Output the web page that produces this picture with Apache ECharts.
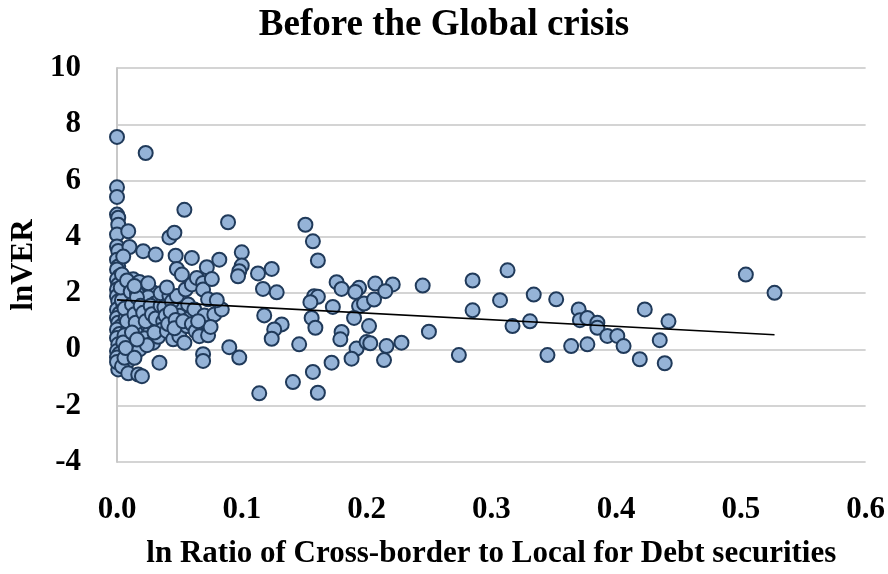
<!DOCTYPE html>
<html>
<head>
<meta charset="utf-8">
<script src="https://cdn.jsdelivr.net/npm/echarts@6/dist/echarts.min.js"></script>
<style>
  html, body { margin: 0; padding: 0; background: #fff; }
  #chart { width: 888px; height: 574px; }
</style>
</head>
<body>
<div id="chart"></div>
<script>
// Axis ticks
const xTicks = [0.0, 0.1, 0.2, 0.3, 0.4, 0.5, 0.6];
const yTicks = [-4, -2, 0, 2, 4, 6, 8, 10];

// Observations: [ln ratio cross-border/local, lnVER]
const obsNearZero = [
  [0.000,7.55],[0.000,5.76],[0.000,5.42],[0.000,4.79],[0.001,4.68],[0.001,4.43],[0.000,4.08],
  [0.000,3.66],[0.001,3.50],[0.000,3.19],[0.001,2.95],[0.000,2.84],[0.002,2.60],[0.000,2.49],
  [0.001,2.30],[0.000,2.13],[0.002,1.98],[0.000,1.89],[0.001,1.71],[0.003,1.55],[0.000,1.42],
  [0.002,1.28],[0.000,1.12],[0.001,0.95],[0.003,0.82],[0.000,0.71],[0.002,0.55],[0.000,0.41],
  [0.001,0.18],[0.000,-0.06],[0.002,-0.15],[0.000,-0.29],[0.001,-0.71],[0.000,-0.45],
  [0.009,4.20],[0.010,3.64],[0.005,3.30],[0.004,2.66],[0.013,2.49],[0.008,2.20],[0.006,1.95],
  [0.011,1.80],[0.005,1.60],[0.009,1.35],[0.007,1.12],[0.010,0.90],[0.009,0.71],[0.006,0.50],
  [0.012,0.30],[0.013,0.12],[0.009,-0.41],[0.004,-0.60],[0.009,-0.85],[0.006,-0.30],
  [0.004,1.75],[0.006,1.45],[0.008,1.00],[0.003,2.20],[0.005,0.25],[0.007,0.05],[0.008,2.45],
  [0.011,2.05]
];
const obsLow = [
  [0.021,3.49],[0.023,6.98],[0.031,3.37],[0.018,2.40],[0.022,2.20],[0.028,2.05],[0.016,2.00],
  [0.020,1.75],[0.025,1.85],[0.030,1.62],[0.017,1.45],[0.024,1.30],[0.032,1.40],[0.020,1.10],
  [0.026,1.12],[0.029,0.95],[0.020,0.83],[0.026,0.59],[0.015,0.60],[0.022,0.40],[0.029,0.24],
  [0.018,0.00],[0.024,0.15],[0.017,-0.89],[0.020,-0.95],[0.034,-0.47],[0.014,-0.30],[0.034,1.24],
  [0.034,0.90],[0.033,1.70],
  [0.012,1.60],[0.014,1.25],[0.015,0.95],[0.016,1.85],[0.019,1.55],[0.021,1.30],[0.023,1.00],
  [0.027,1.55],[0.028,1.25],[0.031,1.10],[0.035,1.55],[0.037,1.00],[0.036,0.70],[0.033,0.45],
  [0.030,0.60],[0.012,0.60],[0.016,0.35],[0.014,2.25],[0.025,2.35],[0.035,2.00],
  [0.042,3.98],[0.046,4.15],[0.047,3.33],[0.054,4.96],[0.060,3.25],[0.048,2.86],[0.052,2.66],
  [0.042,1.92],[0.045,1.06],[0.052,1.42],[0.040,0.65],[0.045,0.36],[0.050,0.47],[0.054,0.24],
  [0.056,0.83],[0.038,1.50],[0.044,1.70],[0.050,1.20],[0.057,1.60],[0.039,1.20],[0.041,0.90],
  [0.048,1.90],[0.055,2.13],[0.060,2.31],[0.058,1.10],[0.040,2.20],[0.043,1.35],[0.047,1.05],
  [0.046,0.75],[0.053,1.00],[0.060,0.90],[0.063,0.65],
  [0.064,2.54],[0.069,2.36],[0.069,2.13],[0.072,2.92],[0.082,3.19],[0.100,3.45],[0.100,2.98],
  [0.098,2.78],[0.097,2.60],[0.089,4.52],[0.073,1.78],[0.062,1.42],[0.070,1.21],[0.078,1.24],
  [0.084,1.42],[0.066,0.47],[0.073,0.50],[0.069,-0.17],[0.069,-0.41],[0.090,0.08],[0.098,-0.29],
  [0.075,0.80],[0.065,1.00],[0.080,1.75],[0.076,2.50]
];
const obsMid = [
  [0.113,2.70],[0.124,2.86],[0.117,2.15],[0.128,2.03],[0.118,1.21],[0.132,0.89],[0.126,0.71],
  [0.124,0.38],[0.146,0.18],[0.114,-1.56],[0.141,-1.16],[0.151,4.43],
  [0.157,3.84],[0.161,3.16],[0.176,2.39],[0.180,2.15],[0.194,2.19],[0.191,2.04],[0.207,2.34],
  [0.221,2.31],[0.215,2.07],[0.245,2.27],[0.158,1.89],[0.161,1.87],[0.155,1.68],[0.173,1.51],
  [0.194,1.54],[0.198,1.63],[0.206,1.77],[0.190,1.12],[0.156,1.12],[0.159,0.77],[0.202,0.83],
  [0.180,0.62],[0.179,0.36],[0.192,0.03],[0.200,0.26],[0.203,0.22],[0.188,-0.33],[0.216,0.12],
  [0.228,0.24],[0.214,-0.38],[0.172,-0.47],[0.157,-0.80],[0.161,-1.54],[0.250,0.63]
];
const obsHigh = [
  [0.274,-0.20],[0.285,2.45],[0.285,1.39],[0.313,2.81],[0.307,1.75],[0.317,0.83],[0.331,1.00],
  [0.334,1.95],[0.345,-0.20],[0.352,1.78],[0.364,0.12],[0.370,1.42],[0.371,1.04],[0.377,1.12],
  [0.385,0.95],[0.385,0.77],[0.393,0.48],[0.401,0.48],[0.406,0.12],[0.377,0.18],[0.423,1.42],
  [0.442,1.00],[0.435,0.33],[0.419,-0.35],[0.439,-0.49],[0.504,2.66],[0.527,2.01]
];

// Linear trend endpoints
const trendLine = [[0.0, 1.76], [0.527, 0.52]];

const points = [].concat(obsNearZero, obsLow, obsMid, obsHigh);

const serif = 'Liberation Serif';
const chart = echarts.init(document.getElementById('chart'), null, { renderer: 'canvas' });

chart.setOption({
  animation: false,
  backgroundColor: '#ffffff',
  title: {
    text: 'Before the Global crisis',
    left: 'center',
    top: 2,
    textStyle: { fontFamily: serif, fontWeight: 'bold', fontSize: 37, color: '#000' }
  },
  grid: { left: 117, right: 20, top: 68, bottom: 111, containLabel: false },
  xAxis: {
    type: 'value',
    min: xTicks[0],
    max: xTicks[xTicks.length - 1],
    interval: 0.1,
    name: 'ln Ratio of Cross-border to Local for Debt securities',
    nameLocation: 'middle',
    nameGap: 76,
    nameTextStyle: { fontFamily: serif, fontWeight: 'bold', fontSize: 31, color: '#000' },
    axisLine: { show: false },
    axisTick: { show: false },
    splitLine: { show: false },
    axisLabel: {
      margin: 32,
      fontFamily: serif, fontWeight: 'bold', fontSize: 31, color: '#000',
      formatter: v => v.toFixed(1)
    }
  },
  yAxis: {
    type: 'value',
    min: yTicks[0],
    max: yTicks[yTicks.length - 1],
    interval: 2,
    name: 'lnVER',
    nameLocation: 'middle',
    nameRotate: 90,
    nameGap: 78,
    nameTextStyle: { fontFamily: serif, fontWeight: 'bold', fontSize: 31, color: '#000' },
    axisLine: { show: true, onZero: false, lineStyle: { color: '#C8C8C8', width: 2 } },
    axisTick: { show: false },
    splitLine: { show: true, lineStyle: { color: '#D4D4D4', width: 2 } },
    axisLabel: {
      margin: 36,
      fontFamily: serif, fontWeight: 'bold', fontSize: 31, color: '#000'
    }
  },
  series: [
    {
      type: 'scatter',
      data: points,
      symbol: 'circle',
      symbolSize: 14,
      itemStyle: { color: '#95B3D7', borderColor: '#203A5A', borderWidth: 2, opacity: 1 },
      z: 2
    },
    {
      type: 'line',
      data: trendLine,
      showSymbol: false,
      symbol: 'none',
      lineStyle: { color: '#000', width: 1.6 },
      z: 3
    }
  ]
});
</script>
</body>
</html>
